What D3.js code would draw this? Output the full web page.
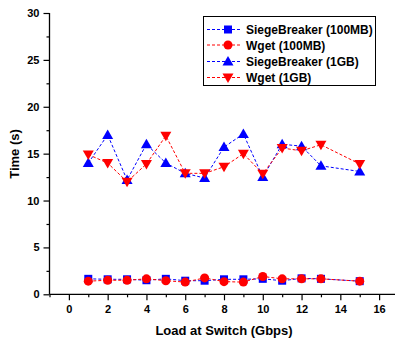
<!DOCTYPE html>
<html>
<head>
<meta charset="utf-8">
<script src="https://cdn.jsdelivr.net/npm/d3@7"></script>
<style>
  body { margin: 0; background: #fff; }
  text { font-family: "Liberation Sans", Arial, sans-serif; font-weight: bold; }
</style>
</head>
<body>
<div id="chart"></div>
<script>
const loads = [1, 2, 3, 4, 5, 6, 7, 8, 9, 10, 11, 12, 13, 15];
const sb100 = [1.65, 1.6, 1.6, 1.5, 1.65, 1.45, 1.45, 1.6, 1.6, 1.65, 1.45, 1.7, 1.65, 1.4];
const wget100 = [1.4, 1.5, 1.5, 1.65, 1.45, 1.3, 1.75, 1.35, 1.3, 1.9, 1.65, 1.65, 1.65, 1.4];
const sb1g = [14, 17, 12.2, 16, 14, 12.9, 12.4, 15.7, 17.1, 12.5, 16.0, 15.8, 13.7, 13.1];
const wget1g = [14.9, 14.0, 12.0, 13.9, 16.9, 12.9, 12.9, 13.6, 15.0, 12.85, 15.6, 15.3, 15.95, 13.9];
const xTicks = [0, 2, 4, 6, 8, 10, 12, 14, 16];
const yTicks = [0, 5, 10, 15, 20, 25, 30];

const series = [
  { name: 'SiegeBreaker (100MB)', values: sb100, color: '#0000ff', symbol: 'square' },
  { name: 'Wget (100MB)', values: wget100, color: '#ff0000', symbol: 'circle' },
  { name: 'SiegeBreaker (1GB)', values: sb1g, color: '#0000ff', symbol: 'up' },
  { name: 'Wget (1GB)', values: wget1g, color: '#ff0000', symbol: 'down' }
];

const width = 395, height = 338;

const svg = d3.select('#chart').append('svg')
  .attr('width', width)
  .attr('height', height);

const x = d3.scaleLinear().domain([-1, 17]).range([49.5, 398.5]);
const y = d3.scaleLinear().domain([0, 30]).range([294.3, 13]);

// axes, major + minor ticks
const xAxis = svg.append('g')
  .attr('transform', 'translate(0,' + y(0) + ')')
  .call(d3.axisBottom(x).tickValues(xTicks).tickSize(6).tickFormat(d3.format('d')));
svg.append('g')
  .attr('transform', 'translate(0,' + y(0) + ')')
  .call(d3.axisBottom(x).tickValues(d3.range(-1, 18, 2)).tickSize(3).tickFormat(''))
  .select('.domain').remove();

const yAxis = svg.append('g')
  .attr('transform', 'translate(' + x(-1) + ',0)')
  .call(d3.axisLeft(y).tickValues(yTicks).tickSize(6));
svg.append('g')
  .attr('transform', 'translate(' + x(-1) + ',0)')
  .call(d3.axisLeft(y).tickValues(d3.range(2.5, 30, 5)).tickSize(3).tickFormat(''))
  .select('.domain').remove();

svg.selectAll('.domain').attr('stroke', '#000').attr('stroke-width', 1.3);
svg.selectAll('.tick line').attr('stroke', '#000').attr('stroke-width', 1.2);
xAxis.select('.domain').attr('d', 'M' + x(-1) + ',0H' + width);
yAxis.select('.domain').attr('d', 'M0,' + y(0) + 'V' + y(30));

xAxis.selectAll('.tick text').attr('font-size', 11).attr('dy', '0.9em').attr('fill', '#000');
yAxis.selectAll('.tick text').attr('font-size', 11).attr('x', -10).attr('fill', '#000');

svg.append('text')
  .attr('x', 224).attr('y', 335)
  .attr('text-anchor', 'middle')
  .attr('font-size', 13)
  .text('Load at Switch (Gbps)');

svg.append('text')
  .attr('transform', 'translate(19,154) rotate(-90)')
  .attr('text-anchor', 'middle')
  .attr('font-size', 13)
  .text('Time (s)');

function drawMarker(g, symbol, color, cx, cy) {
  if (symbol === 'square') {
    g.append('rect').attr('x', cx - 4).attr('y', cy - 4).attr('width', 8).attr('height', 8).attr('fill', color);
  } else if (symbol === 'circle') {
    g.append('circle').attr('cx', cx).attr('cy', cy).attr('r', 4.5).attr('fill', color);
  } else if (symbol === 'up') {
    g.append('path').attr('d', `M${cx},${cy - 5.5}L${cx + 5.5},${cy + 4}L${cx - 5.5},${cy + 4}Z`).attr('fill', color);
  } else {
    g.append('path').attr('d', `M${cx},${cy + 5.5}L${cx + 5.5},${cy - 4}L${cx - 5.5},${cy - 4}Z`).attr('fill', color);
  }
}

const line = d3.line().x(d => x(d[0])).y(d => y(d[1]));

series.forEach(s => {
  const pts = loads.map((l, i) => [l, s.values[i]]);
  svg.append('path')
    .datum(pts)
    .attr('d', line)
    .attr('fill', 'none')
    .attr('stroke', s.color)
    .attr('stroke-width', 1)
    .attr('stroke-dasharray', '3,2');
  const g = svg.append('g');
  pts.forEach(p => drawMarker(g, s.symbol, s.color, x(p[0]), y(p[1])));
});

// legend
const legend = svg.append('g');
legend.append('rect')
  .attr('x', 203.5).attr('y', 16.5)
  .attr('width', 172).attr('height', 69)
  .attr('fill', '#fff').attr('stroke', '#000').attr('stroke-width', 1);

const rowY = [29.5, 45, 61.5, 77.5];
series.forEach((s, i) => {
  legend.append('line')
    .attr('x1', 207).attr('x2', 240)
    .attr('y1', rowY[i]).attr('y2', rowY[i])
    .attr('stroke', s.color).attr('stroke-width', 1)
    .attr('stroke-dasharray', '3,2');
  drawMarker(legend, s.symbol, s.color, 228, rowY[i]);
  legend.append('text')
    .attr('x', 246).attr('y', rowY[i] + 4.5)
    .attr('font-size', 12)
    .text(s.name);
});
</script>
</body>
</html>
